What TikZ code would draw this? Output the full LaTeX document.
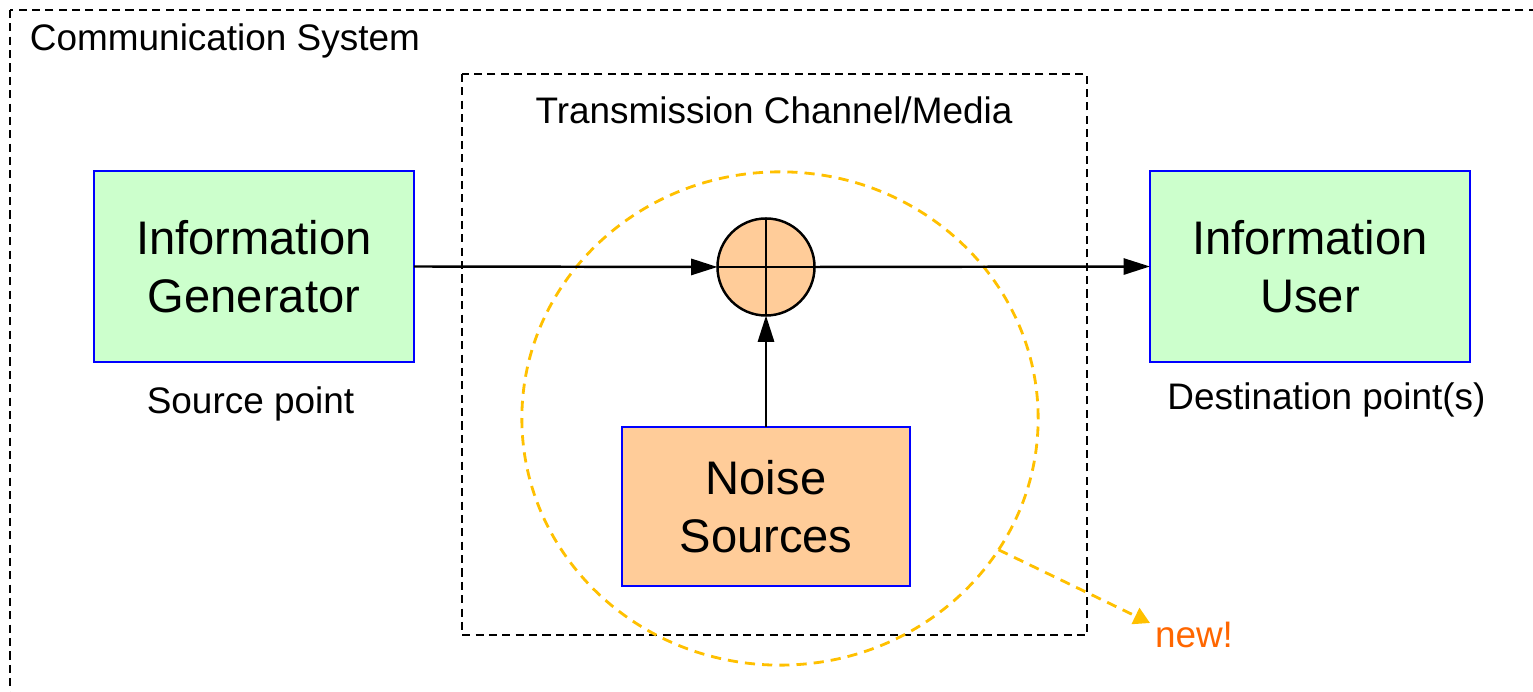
\documentclass[tikz,border=0pt]{standalone}
\usepackage{fontspec}
\setmainfont{Liberation Sans}
\usetikzlibrary{arrows.meta,shapes.geometric}

\definecolor{boxgreen}{HTML}{CCFFCC}
\definecolor{boxorange}{HTML}{FFCC99}
\definecolor{boxblue}{HTML}{0000FF}
\definecolor{markyellow}{HTML}{FFC000}
\definecolor{neworange}{HTML}{FF6600}

\tikzset{
  frame/.style={draw=black, line width=0.6pt, dash pattern=on 2.3pt off 1.5pt},
  block/.style={draw=boxblue, line width=0.75pt, rectangle, inner sep=0pt, outer sep=0pt,
    align=center, font=\fontsize{13.4}{16.5}\selectfont},
  label/.style={inner sep=0pt, outer sep=0pt, font=\fontsize{10.5}{12.6}\selectfont},
  arr/.style={draw=black, line width=0.7pt, -{Triangle[length=7.5pt,width=4.6pt]}},
  hilite/.style={draw=markyellow, line width=0.8pt, dash pattern=on 2.9pt off 2pt},
}

\begin{document}
\begin{tikzpicture}[x=0.01cm, y=-0.01cm]
  \useasboundingbox (0,0) rectangle (1533,692);
  \clip (0,0) rectangle (1533,692);

  % whole system frame (runs past the right and bottom edges)
  \draw[frame] (10,10) rectangle (1560,720);
  \node[label, anchor=base west] (systitle) at (30,51) {Communication System};

  % channel frame
  \draw[frame] (462,74) rectangle (1087,635);
  \node[label, anchor=base] (chantitle) at (774,124) {Transmission Channel/Media};

  % highlighted noise region
  \node[ellipse, hilite, inner sep=0pt, outer sep=0pt,
        minimum width=5.16cm, minimum height=4.93cm] (zone) at (780,418.5) {};
  \coordinate (newtip) at (1150,623);
  \draw[hilite, -{Triangle[length=4.6pt,width=5pt]}] (zone.-31) -- (newtip);
  \node[label, anchor=base west, text=neworange] (newlabel) at (1155,648) {new!};

  % blocks
  \node[block, fill=boxgreen, minimum width=3.2cm, minimum height=1.91cm]
    (gen) at (254,266.5) {Information\\Generator};
  \node[block, fill=boxgreen, minimum width=3.2cm, minimum height=1.91cm]
    (user) at (1310,266.5) {Information\\User};
  \node[block, fill=boxorange, minimum width=2.88cm, minimum height=1.59cm]
    (noise) at (766,506.5) {Noise\\Sources};

  % summing junction
  \node[circle, draw=black, line width=0.7pt, fill=boxorange, inner sep=0pt,
        outer sep=0pt, minimum size=0.97cm] (sum) at (766,267) {};
  \draw[line width=0.7pt] (sum.north) -- (sum.south);
  \draw[line width=0.7pt] (sum.west) -- (sum.east);

  % signal path
  \draw[arr] (gen.east) -- (sum.west);
  \draw[arr] (sum.east) -- (user.west);
  \draw[arr] (noise.north) -- (sum.south);

  % captions
  \node[label, anchor=base] (srccap) at (250.5,414) {Source point};
  \node[label, anchor=base] (dstcap) at (1326.5,410) {Destination point(s)};
\end{tikzpicture}
\end{document}
